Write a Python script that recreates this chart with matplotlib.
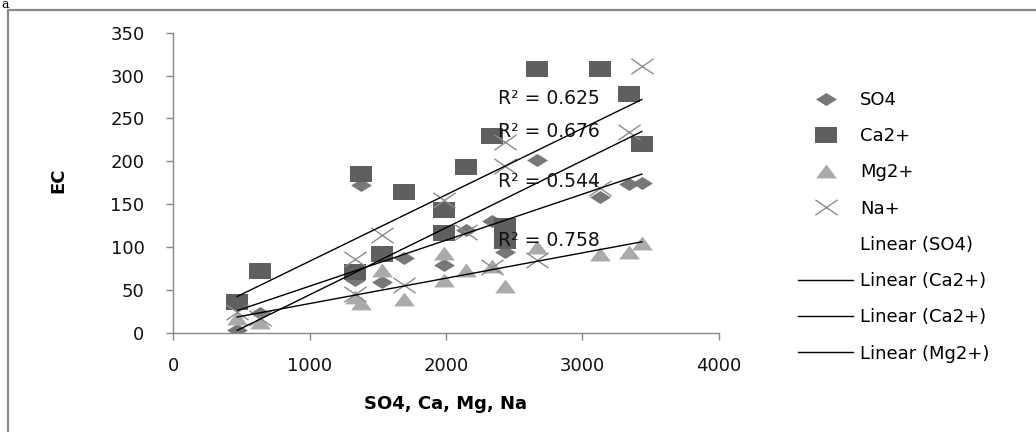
import numpy as np
import matplotlib.pyplot as plt
from matplotlib.path import Path
from matplotlib.lines import Line2D

# values (x shared scale, EC on y)
so4_x = [470, 640, 1330, 1380, 1530, 1690, 1985, 2145, 2335, 2435, 2665, 3130, 3340, 3435]
so4_y = [4, 23, 62, 173, 59, 87, 79, 120, 131, 95, 202, 158, 174, 175]

ca_x = [470, 640, 1330, 1380, 1530, 1690, 1985, 1985, 2145, 2335, 2435, 2435, 2665, 3130, 3340, 3435]
ca_y = [36, 72, 71, 185, 92, 164, 143, 117, 193, 229, 125, 107, 307, 308, 279, 220]

mg_x = [470, 640, 1330, 1380, 1530, 1690, 1985, 1985, 2145, 2335, 2435, 2665, 3130, 3340, 3435]
mg_y = [18, 13, 42, 35, 73, 40, 93, 62, 73, 78, 55, 100, 92, 94, 105]

na_x = [470, 640, 1330, 1330, 1530, 1690, 1985, 2145, 2335, 2435, 2435, 2665, 3130, 3340, 3435]
na_y = [25, 18, 86, 45, 114, 56, 155, 118, 77, 222, 195, 85, 169, 234, 311]

r2_labels = ['R² = 0.625', 'R² = 0.676', 'R² = 0.544', 'R² = 0.758']
legend_labels = ['SO4', 'Ca2+', 'Mg2+', 'Na+', 'Linear (SO4)', 'Linear (Ca2+)',
                 'Linear (Ca2+)', 'Linear (Mg2+)']

plt.rcParams['font.family'] = 'DejaVu Sans'

# excel markers look wide, so stretch them sideways
diamond = [(0, -1), (1.6, 0), (0, 1), (-1.6, 0), (0, -1)]
square = [(-1.4, -1), (1.4, -1), (1.4, 1), (-1.4, 1), (-1.4, -1)]
triangle = [(-1.5, -1), (1.5, -1), (0, 1), (-1.5, -1)]
cross = Path([(-1.45, -1), (1.45, 1), (-1.45, 1), (1.45, -1)],
             [Path.MOVETO, Path.LINETO, Path.MOVETO, Path.LINETO])

st_so4 = dict(marker=diamond, ms=15, mfc='#777777', mec='#777777', mew=0, ls='none')
st_ca = dict(marker=square, ms=15.5, mfc='#5f5f5f', mec='#5f5f5f', mew=0, ls='none')
st_mg = dict(marker=triangle, ms=15, mfc='#aaaaaa', mec='#aaaaaa', mew=0, ls='none')
st_na = dict(marker=cross, ms=16, mfc='none', mec='#8c8c8c', mew=1.0, ls='none')

fig = plt.figure(figsize=(10.36, 4.32), dpi=100)
ax = fig.add_axes([0.167, 0.229, 0.527, 0.6956])

ax.plot(so4_x, so4_y, **st_so4)
ax.plot(ca_x, ca_y, **st_ca)
ax.plot(mg_x, mg_y, **st_mg)
ax.plot(na_x, na_y, **st_na)

# linear trendlines like excel (Ca, Na, SO4, Mg from top to bottom)
xs = np.array([470, 3435])
for x, y in [(ca_x, ca_y), (na_x, na_y), (so4_x, so4_y), (mg_x, mg_y)]:
    k, b = np.polyfit(x, y, 1)
    ax.plot(xs, k * xs + b, color='black', lw=1.0)

# R² label spots as placed on the chart
for lab, yy in zip(r2_labels, [273, 235, 177, 108]):
    ax.text(2380, yy, lab, fontsize=13.5, va='center', ha='left', color='#111111')

ax.set_xlim(0, 4000)
ax.set_ylim(0, 350)
ax.set_xticks([0, 1000, 2000, 3000, 4000])
ax.set_yticks(range(0, 351, 50))
for s in ['top', 'right']:
    ax.spines[s].set_visible(False)
for s in ['left', 'bottom']:
    ax.spines[s].set_color('#888888')
    ax.spines[s].set_linewidth(1.0)
ax.tick_params(axis='both', direction='out', length=5, width=1, color='#888888',
               labelsize=13, labelcolor='#111111')
ax.tick_params(axis='y', pad=15.5)
ax.tick_params(axis='x', pad=12)

ax.set_xlabel('SO4, Ca, Mg, Na', fontsize=13, fontweight='bold')
ax.xaxis.set_label_coords(0.5, -0.205)
ax.set_ylabel('EC', fontsize=13, fontweight='bold')
ax.yaxis.set_label_coords(-0.194, 0.51)

handles = [Line2D([], [], **st_so4), Line2D([], [], **st_ca),
           Line2D([], [], **st_mg), Line2D([], [], **st_na),
           Line2D([], [], ls='none'),
           Line2D([], [], color='black', lw=1.0),
           Line2D([], [], color='black', lw=1.0),
           Line2D([], [], color='black', lw=1.0)]
fig.legend(handles, legend_labels, loc='upper left', bbox_to_anchor=(798 / 1036, 1 - 91 / 432),
           frameon=False, fontsize=13, handlelength=3.05, handletextpad=0.4,
           labelspacing=1.01, borderpad=0, borderaxespad=0)

# outer chart frame (cut off on right / bottom) and panel letter
fig.add_artist(Line2D([8 / 1036, 8 / 1036, 1], [0, 1 - 10 / 432, 1 - 10 / 432],
                      transform=fig.transFigure, color='#8a8a8a', lw=1.6))
fig.text(1 / 1036, 1 - 8 / 432, 'a', family='DejaVu Serif', fontsize=9, va='baseline')

fig.savefig('out.png', dpi=100)
